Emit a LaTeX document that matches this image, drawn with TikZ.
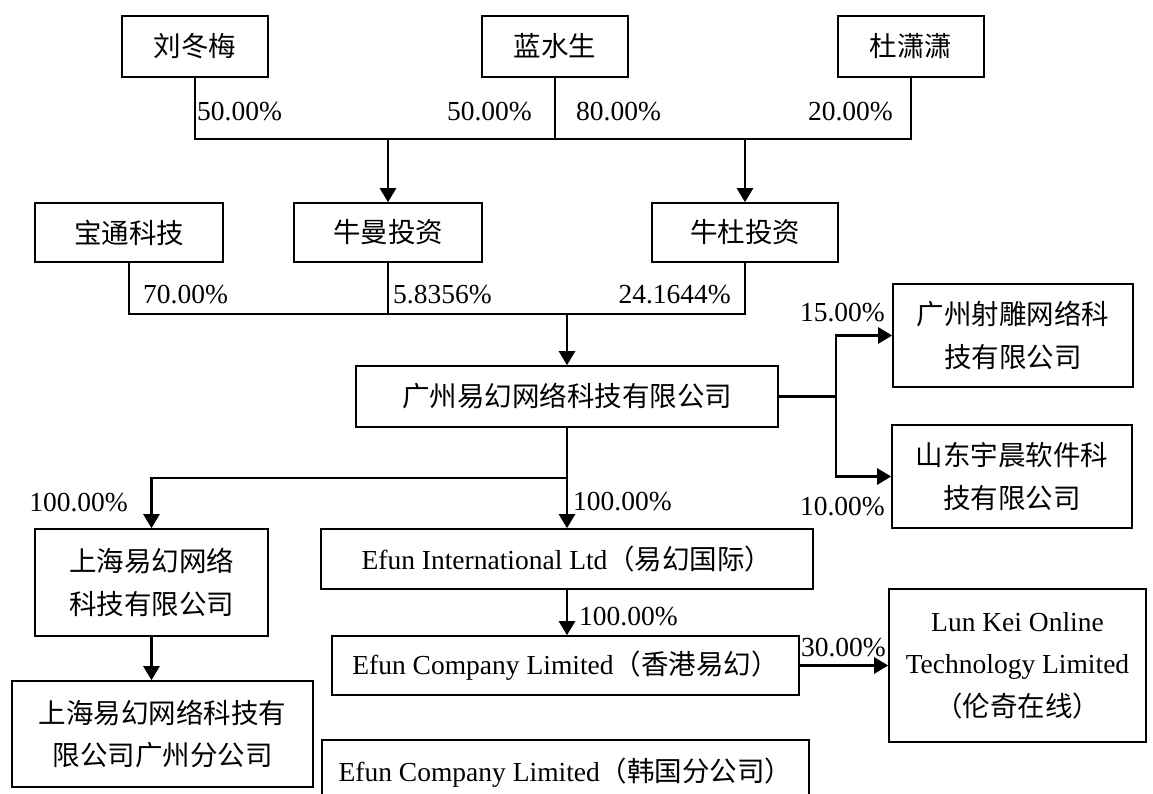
\documentclass[tikz,border=0pt]{standalone}
\usepackage{fontspec}
\setmainfont{Liberation Serif}
\newfontfamily\cjk{Noto Sans CJK SC}
\usetikzlibrary{arrows.meta}

\begin{document}
\begin{tikzpicture}[
        x=1pt,y=-1pt,>={Triangle[width=16pt,length=14pt]},
        font=\fontsize{27.5}{42.5}\selectfont,
        box/.style 2 args={draw,line width=1.6pt,minimum width=#1pt,minimum height=#2pt,inner sep=0pt,align=center},
        zh/.style={font=\fontsize{27.5}{42.5}\selectfont\cjk},
        link/.style={line width=2.6pt},
        pct/.style={inner sep=0pt}
        ]
        \useasboundingbox (0,0) rectangle (1153,794);

        \node[box={146}{61},zh]   (liu)      at (195,46.5)    {刘冬梅};
        \node[box={146}{61},zh]   (lan)      at (555,46.5)    {蓝水生};
        \node[box={146}{61},zh]   (du)       at (911,46.5)    {杜潇潇};
        \node[box={188}{59},zh]   (baotong)  at (129,232.5)   {宝通科技};
        \node[box={188}{59},zh]   (niuman)   at (388,232.5)   {牛曼投资};
        \node[box={186}{59},zh]   (niudu)    at (745,232.5)   {牛杜投资};
        \node[box={422}{61},zh]   (gz_efun)  at (567,396.5)   {广州易幻网络科技有限公司};
        \node[box={240}{103},zh]  (shediao)  at (1013,335.5)  {广州射雕网络科\\技有限公司};
        \node[box={240}{103},zh]  (shandong) at (1012,476.5)  {山东宇晨软件科\\技有限公司};
        \node[box={233}{107},zh]  (sh_efun)  at (151.5,582.5) {上海易幻网络\\科技有限公司};
        \node[box={301}{106},zh]  (sh_gz)    at (162.5,734)   {上海易幻网络科技有\\限公司广州分公司};
        \node[box={492}{60}]      (intl)     at (567,559)     {Efun International Ltd{\cjk（易幻国际）}};
        \node[box={467}{59}]      (hk_efun)  at (565.5,665.5) {Efun Company Limited{\cjk（香港易幻）}};
        \node[box={487}{65}]      (korea)    at (565.5,772.5) {Efun Company Limited{\cjk（韩国分公司）}};
        \node[box={257}{153}]     (lunkei)   at (1017.5,665.5) {Lun Kei Online\\Technology Limited\\{\cjk（伦奇在线）}};

        \coordinate (j_1) at (388,139);
        \coordinate (j_2) at (745,139);
        \coordinate (j_3) at (567,314);
        \coordinate (j_4) at (836,396.5);
        \coordinate (j_5) at (567,478);

        \draw[link] (liu.south) |- (j_1) -| (lan.south);
        \draw[link] (lan.south) |- (j_2) -| (du.south);
        \draw[link,->] (j_1) -- (niuman);
        \draw[link,->] (j_2) -- (niudu);
        \draw[link] (baotong.south) |- (j_3) -| (niudu.south);
        \draw[link] (niuman.south) -- (niuman.south |- j_3);
        \draw[link,->] (j_3) -- (gz_efun);
        \draw[link] (gz_efun.east) -- (j_4);
        \draw[link,->] (j_4) |- (shediao);
        \draw[link,->] (j_4) |- (shandong);
        \draw[link] (gz_efun.south) -- (j_5);
        \draw[link,->] (j_5) -| (sh_efun);
        \draw[link,->] (j_5) -- (intl);
        \draw[link,->] (sh_efun.south) -- (sh_efun.south |- sh_gz.north);
        \draw[link,->] (intl.south) -- (intl.south |- hk_efun.north);
        \draw[link,->] (hk_efun) -- (lunkei);

        \node[pct,anchor=west] (p_liu)   at (197,112) {50.00\%};
        \node[pct,anchor=east] (p_lan_a) at (532,112) {50.00\%};
        \node[pct,anchor=west] (p_lan_b) at (576,112) {80.00\%};
        \node[pct,anchor=east] (p_du)    at (893,112) {20.00\%};
        \node[pct,anchor=west] (p_bt)    at (143,295) {70.00\%};
        \node[pct,anchor=west] (p_nm)    at (393,295) {5.8356\%};
        \node[pct,anchor=east] (p_nd)    at (731,295) {24.1644\%};
        \node[pct,anchor=east] (p_sd)    at (885,313) {15.00\%};
        \node[pct,anchor=east] (p_shd)   at (885,507) {10.00\%};
        \node[pct,anchor=east] (p_sh)    at (128,503) {100.00\%};
        \node[pct,anchor=west] (p_intl)  at (573,502) {100.00\%};
        \node[pct,anchor=west] (p_hk)    at (579,617) {100.00\%};
        \node[pct,anchor=east] (p_lk)    at (886,648) {30.00\%};
      \end{tikzpicture}
\end{document}
